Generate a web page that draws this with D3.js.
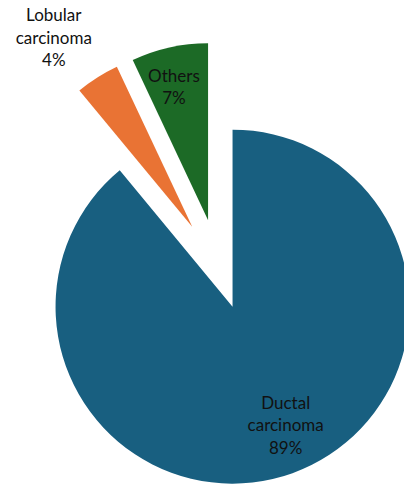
<!DOCTYPE html>
<html>
<head>
<meta charset="utf-8">
<script src="https://cdn.jsdelivr.net/npm/d3@7"></script>
<style>
  html, body { margin: 0; padding: 0; background: #fff; overflow: hidden; }
  svg text { font-family: Lato, "Open Sans", sans-serif; }
</style>
</head>
<body>
<div id="chart"></div>
<script>
// Data
const categories = ["Ductal carcinoma", "Lobular carcinoma", "Others"];
const shares = [89, 4, 7];
const labelLines = [["Ductal", "carcinoma", "89%"], ["Lobular", "carcinoma", "4%"], ["Others", "7%"]];

const colors = ["#185f80", "#e97334", "#1c6a26"];

// Layout
const width = 404, height = 484;
const center = { x: 219, y: 269 };
const radius = 177;
const explode = [40, 50, 50];            // how far each slice is pulled out
const labelRadius = [0.735, 1.324, 0.776]; // label distance as share of radius
const labelTurn = [-4.3, -3.8, -1.8];      // degrees, nudge off the slice middle

const svg = d3.select("#chart")
    .append("svg")
    .attr("width", width)
    .attr("height", height);

const g = svg.append("g")
    .attr("transform", `translate(${center.x},${center.y})`);

const pie = d3.pie().sort(null).value(d => d);
const arcs = pie(shares);

const arc = d3.arc().innerRadius(0).outerRadius(radius);

const mid = d => (d.startAngle + d.endAngle) / 2;

const slices = g.selectAll("g.slice")
    .data(arcs)
    .enter()
    .append("g")
    .attr("class", "slice")
    .attr("transform", (d, i) => {
        const a = mid(d);
        return `translate(${Math.sin(a) * explode[i]},${-Math.cos(a) * explode[i]})`;
    });

slices.append("path")
    .attr("d", arc)
    .attr("fill", (d, i) => colors[i]);

// Labels
const lineH = 22.5;
slices.append("text")
    .attr("text-anchor", "middle")
    .attr("font-size", 17)
    .attr("fill", "#111")
    .attr("transform", (d, i) => {
        const a = mid(d) + labelTurn[i] * Math.PI / 180, r = radius * labelRadius[i];
        return `translate(${Math.sin(a) * r},${-Math.cos(a) * r})`;
    })
    .each(function (d, i) {
        const lines = labelLines[i];
        const t = d3.select(this);
        lines.forEach((s, k) => {
            t.append("tspan")
                .attr("x", 0)
                .attr("y", (k - (lines.length - 1) / 2) * lineH + 6)
                .text(s);
        });
    });
</script>
</body>
</html>
